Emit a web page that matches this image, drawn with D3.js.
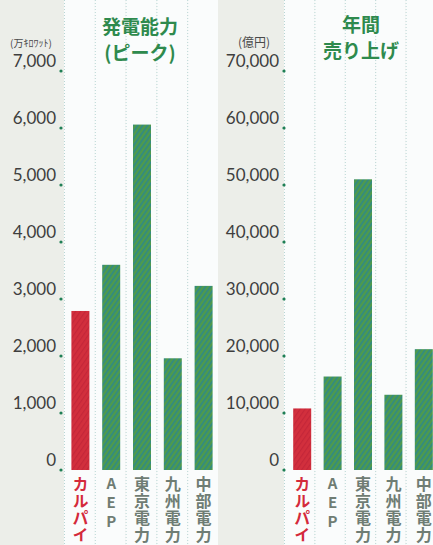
<!DOCTYPE html>
<html>
<head>
<meta charset="utf-8">
<script src="https://cdn.jsdelivr.net/npm/d3@7"></script>
<style>
  html, body { margin: 0; padding: 0; background: #eceee9; }
  svg { display: block; }
</style>
</head>
<body>
<div id="chart"></div>
<script>
// data
var companies = ["カルパイン", "ＡＥＰ", "東京電力", "九州電力", "中部電力"];
var capacity = [2790, 3600, 6060, 1960, 3230];   // 万kW
var sales = [10800, 16400, 51000, 13200, 21200];  // 億円
var capTicks = [0, 1000, 2000, 3000, 4000, 5000, 6000, 7000];
var salesTicks = [0, 10000, 20000, 30000, 40000, 50000, 60000, 70000];

var svgWidth = 433
var svgHeight = 545

var svg = d3.select('#chart')
    .append('svg')
    .attr('width', svgWidth)
    .attr('height', svgHeight)

var defs = svg.append('defs')
// halftone-ish stripes for the printed bars
var pg = defs.append('pattern')
    .attr('id', 'green')
    .attr('width', 4).attr('height', 4)
    .attr('patternUnits', 'userSpaceOnUse')
    .attr('patternTransform', 'rotate(35)')
pg.append('rect').attr('width', 4).attr('height', 4).attr('fill', '#4f9a4c')
pg.append('rect').attr('width', 1.6).attr('height', 4).attr('fill', '#2f8a86')

var pr = defs.append('pattern')
    .attr('id', 'red')
    .attr('width', 4).attr('height', 4)
    .attr('patternUnits', 'userSpaceOnUse')
    .attr('patternTransform', 'rotate(35)')
pr.append('rect').attr('width', 4).attr('height', 4).attr('fill', '#d22f3d')
pr.append('rect').attr('width', 1.2).attr('height', 4).attr('fill', '#c42639')

svg.append('rect')
    .attr('width', svgWidth).attr('height', svgHeight)
    .attr('fill', '#eceee9')

var y0 = 470, yTop = 71

function panel(opts) {
    var x = d3.scaleBand()
        .domain(companies)
        .range(opts.xRange)
    var y = d3.scaleLinear()
        .domain([0, opts.ticks[opts.ticks.length - 1]])
        .range([y0, yTop])

    var g = svg.append('g')

    // white column strips with dotted separators
    g.selectAll('rect.col')
        .data(companies)
        .enter()
        .append('rect')
        .attr('class', 'col')
        .attr('x', function(d) { return x(d) + opts.colShift })
        .attr('y', 0)
        .attr('width', x.bandwidth())
        .attr('height', svgHeight)
        .attr('fill', '#fafcfc')

    g.selectAll('line.sep')
        .data(companies)
        .enter()
        .append('line')
        .attr('class', 'sep')
        .attr('x1', function(d) { return x(d) + opts.colShift + 0.5 })
        .attr('x2', function(d) { return x(d) + opts.colShift + 0.5 })
        .attr('y1', 0)
        .attr('y2', svgHeight)
        .attr('stroke', '#b9d6d4')
        .attr('stroke-width', 1)
        .attr('stroke-dasharray', '1,2')

    // bars
    var barW = 18
    g.selectAll('rect.bar')
        .data(opts.values)
        .enter()
        .append('rect')
        .attr('class', 'bar')
        .attr('x', function(d, i) { return x(companies[i]) + x.bandwidth() / 2 - barW / 2 })
        .attr('y', function(d) { return y(d) })
        .attr('width', barW)
        .attr('height', function(d) { return y0 - y(d) })
        .attr('fill', function(d, i) { return i === 0 ? 'url(#red)' : 'url(#green)' })

    // axis: labels + green dots
    var ax = g.selectAll('g.tick')
        .data(opts.ticks)
        .enter()
        .append('g')
        .attr('transform', function(d) { return 'translate(0,' + y(d) + ')' })
    ax.append('circle')
        .attr('cx', opts.axisX)
        .attr('cy', 0)
        .attr('r', 1.6)
        .attr('fill', '#1f7f55')
    ax.append('text')
        .attr('x', opts.axisX - 5)
        .attr('y', -4)
        .attr('text-anchor', 'end')
        .attr('font-family', 'Lato, "Noto Sans", sans-serif')
        .attr('font-size', 17)
        .attr('fill', '#3e3e3e')
        .text(function(d) { return d3.format(',')(d) })

    // unit
    g.append('text')
        .attr('x', opts.unitX)
        .attr('y', 47)
        .attr('text-anchor', 'middle')
        .attr('font-family', '"Noto Sans CJK JP", sans-serif')
        .attr('font-size', opts.unitSize)
        .attr('fill', '#4a4a4a')
        .text(opts.unit)

    // title
    opts.title.forEach(function(t, i) {
        g.append('text')
            .attr('x', opts.titleX)
            .attr('y', 34 + i * 26 - (opts.titleUp || 0))
            .attr('text-anchor', 'middle')
            .attr('font-family', '"Noto Sans CJK JP", sans-serif')
            .attr('font-weight', 'bold')
            .attr('font-size', 19)
            .attr('fill', '#2e8a4d')
            .text(t)
    })

    // vertical category labels
    g.selectAll('text.cat')
        .data(companies)
        .enter()
        .append('text')
        .attr('class', 'cat')
        .attr('x', function(d) { return x(d) + x.bandwidth() / 2 })
        .attr('y', 476)
        .style('writing-mode', 'vertical-rl')
        .style('text-orientation', 'upright')
        .attr('font-family', '"Noto Sans CJK JP", sans-serif')
        .attr('font-weight', 'bold')
        .attr('font-size', function(d) { return d === 'ＡＥＰ' ? 15 : 16 })
        .attr('letter-spacing', function(d) { return d === 'ＡＥＰ' ? 4 : 1 })
        .attr('fill', function(d, i) { return i === 0 ? '#d42a3b' : '#6f7d74' })
        .text(function(d) { return d === 'ＡＥＰ' ? 'AEP' : d })
}

panel({
    xRange: [65, 219],
    colShift: -1,
    values: capacity,
    ticks: capTicks,
    axisX: 61,
    unit: '(万ｷﾛﾜｯﾄ)',
    unitX: 31,
    unitSize: 10,
    title: ['発電能力', '(ピーク)'],
    titleX: 140
})

panel({
    xRange: [287, 439],
    colShift: -3,
    values: sales,
    ticks: salesTicks,
    axisX: 284,
    unit: '(億円)',
    unitX: 254,
    unitSize: 12,
    title: ['年間', '売り上げ'],
    titleX: 361,
    titleUp: 2
})
</script>
</body>
</html>
